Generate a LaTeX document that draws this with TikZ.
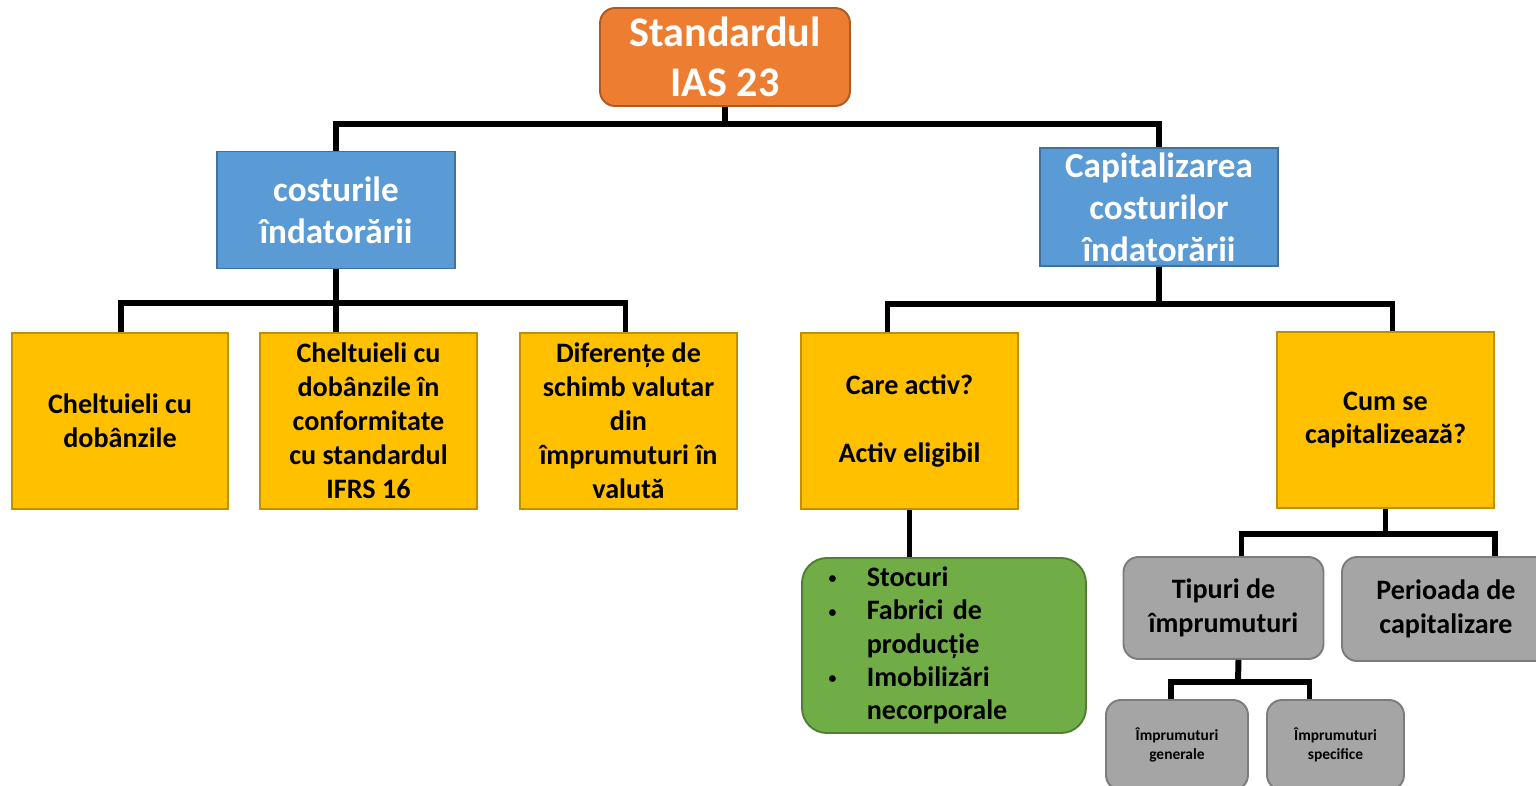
\documentclass[tikz,border=0pt]{standalone}
\usepackage{fontspec}
\setmainfont{Carlito}
\usetikzlibrary{calc, positioning}

\newcommand{\listdot}{\makebox[19.8pt][l]{\hspace{-2pt}\raisebox{1.5pt}{\fontsize{9}{9}\selectfont\textbullet}}}

\begin{document}
\begin{tikzpicture}[x=0.02cm, y=-0.02cm]
	\useasboundingbox (0,0) rectangle (1536,786);

	% styles of the boxes and of the black connectors
	\tikzstyle{conn} = [line width=3.4pt, black, line join=miter]
	\tikzstyle{box} = [draw, line width=1.1pt, align=center, inner sep=2pt, font=\bfseries]
	\tikzstyle{root box} = [box, fill=rootA, draw=rootB, rounded corners=0.3cm, text=white, minimum width=5cm, minimum height=1.96cm, font=\fontsize{24}{28.5}\selectfont\bfseries]
	\tikzstyle{blue box} = [box, fill=blueA, draw=blueB, text=white, minimum width=4.76cm, minimum height=2.34cm, font=\fontsize{20}{23.8}\selectfont\bfseries]
	\tikzstyle{yellow box} = [box, fill=yellowA, draw=yellowB, minimum width=4.33cm, minimum height=3.52cm, font=\fontsize{16}{19.3}\selectfont\bfseries]
	\tikzstyle{green box} = [box, fill=greenA, draw=greenB, rounded corners=0.5cm, minimum width=5.68cm, minimum height=3.5cm, text width=4.48cm, inner xsep=0.6cm, align=left, font=\fontsize{16}{19}\selectfont\bfseries]
	\tikzstyle{gray box} = [box, fill=grayA, draw=grayB, rounded corners=0.3cm, minimum width=4cm, minimum height=2.04cm, font=\fontsize{16}{19}\selectfont\bfseries]
	\tikzstyle{small box} = [gray box, minimum height=1.8cm, font=\fontsize{8.8}{10.8}\selectfont\bfseries]

	\definecolor{rootA}{HTML}{ED7D31}
	\definecolor{rootB}{HTML}{AE5A21}
	\definecolor{blueA}{HTML}{5B9BD5}
	\definecolor{blueB}{HTML}{41719C}
	\definecolor{yellowA}{HTML}{FFC000}
	\definecolor{yellowB}{HTML}{BF9000}
	\definecolor{greenA}{HTML}{70AD47}
	\definecolor{greenB}{HTML}{507E32}
	\definecolor{grayA}{HTML}{A5A5A5}
	\definecolor{grayB}{HTML}{7C7C7C}

	\node[root box] (root) at (725,57) {Standardul\\IAS 23};

	\node[blue box] (cost) at (336,210) {costurile\\îndatorării};
	\node[blue box, minimum height=2.36cm] (cap) at (1159,207) {Capitalizarea\\costurilor\\îndatorării};

	\node[yellow box] (b1) at (120,421) {Cheltuieli cu\\dobânzile};
	\node[yellow box] (b2) at (368.5,421) {Cheltuieli cu\\dobânzile în\\conformitate\\cu standardul\\IFRS 16};
	\node[yellow box] (b3) at (628.5,421) {Diferențe de\\schimb valutar\\din\\împrumuturi în\\valută};
	\node[yellow box] (b4) at (909.5,421) {Care activ?\\~\\Activ eligibil};
	\node[yellow box] (b5) at (1385.5,420) {Cum se\\capitalizează?};

	\node[green box] (active) at (944,645.5) {\listdot Stocuri\\
		\listdot\mbox{Fabrici de}\\
		\hspace*{19.8pt}producție\\
		\listdot Imobilizări\\
		\hspace*{19.8pt}necorporale};

	\node[gray box] (tip) at (1223.5,608) {Tipuri de\\împrumuturi};
	\node[gray box, minimum width=4.16cm, minimum height=2.08cm] (per) at (1446,609) {Perioada de\\capitalizare};

	\node[small box, minimum width=2.84cm] (gen) at (1177,745) {Împrumuturi\\generale};
	\node[small box, minimum width=2.74cm] (spec) at (1335.5,745) {Împrumuturi\\specifice};

	% connectors
	\coordinate (bar0) at (725,124);
	\draw[conn] (root.south) -- (bar0);
	\draw[conn] (cost.north) |- (bar0) -| (cap.north);

	\coordinate (bar1) at (336,303);
	\draw[conn] (cost.south) -- (cost.south |- b2.north);
	\draw[conn] ($(b1.north)+(1,0)$) |- (bar1) -| ($(b3.north)+(-3,0)$);

	\coordinate (bar2) at (1159,304);
	\draw[conn] (cap.south) -- (bar2);
	\draw[conn] ($(b4.north)+(-22,0)$) |- (bar2) -| ($(b5.north)+(7,0)$);

	\draw[conn] (b4.south) -- (b4.south |- active.north);

	\coordinate (bar3) at (1385.5,534);
	\draw[conn] (b5.south) -- (bar3);
	\draw[conn] ($(tip.north)+(18,0)$) |- (bar3) -| ($(per.north)+(49,0)$);

	\coordinate (bar4) at (1238,682);
	\draw[conn] ($(tip.south)+(15,0)$) -- (bar4);
	\draw[conn] ($(gen.north)+(-6,0)$) |- (bar4) -| ($(spec.north)+(-26,0)$);
\end{tikzpicture}
\end{document}
